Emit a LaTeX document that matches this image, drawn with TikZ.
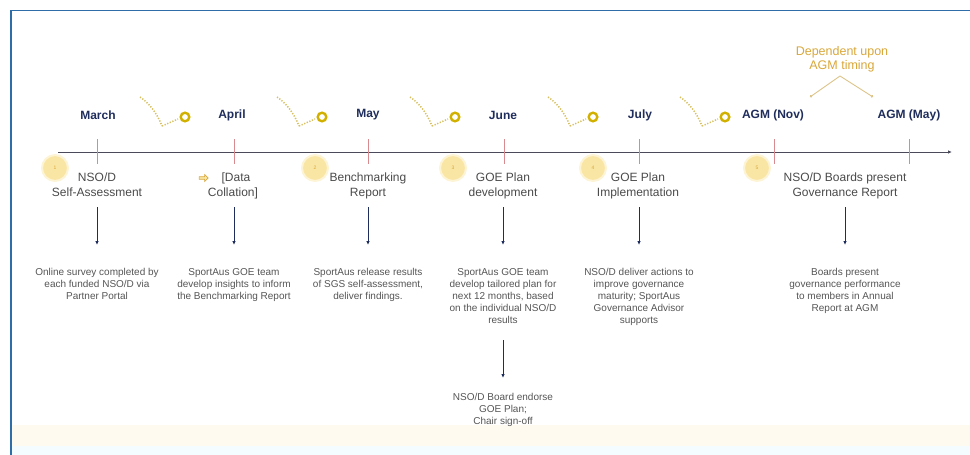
\documentclass[tikz,border=0pt]{standalone}
\usepackage{fontspec}
\setmainfont{Liberation Sans}
\usetikzlibrary{arrows.meta,shapes.arrows}
\definecolor{navy}{HTML}{1F2D5C}
\definecolor{framec}{HTML}{2F6DA8}
\definecolor{axisc}{HTML}{4A4A5A}
\definecolor{tickc}{HTML}{D98A8F}
\definecolor{titlec}{HTML}{4A4A4A}
\definecolor{descc}{HTML}{555555}
\definecolor{goldt}{HTML}{D8A73A}
\definecolor{caretc}{HTML}{DCC48A}
\definecolor{ringc}{HTML}{D2B000}
\definecolor{dotc}{HTML}{D6C060}
\definecolor{numfill}{HTML}{FAE6A4}
\definecolor{numedge}{HTML}{FDF4D6}
\definecolor{bandy}{HTML}{FFFAF0}
\definecolor{bandc}{HTML}{F4FCFF}
\begin{document}
\begin{tikzpicture}[x=1pt,y=-1pt,
  month/.style={font=\fontsize{12}{14}\selectfont\bfseries, text=navy, inner sep=0pt},
  stitle/.style={font=\fontsize{12}{15}\selectfont, text=titlec, align=center, inner sep=0pt, anchor=north},
  desc/.style={font=\fontsize{10}{12}\selectfont, text=descc, align=center, inner sep=0pt, anchor=north},
  numc/.style={circle, minimum size=26pt, inner sep=0pt, fill=numfill, draw=numedge, line width=2pt, font=\fontsize{5}{6}\selectfont, text=goldt},
  tickl/.style={draw=tickc, line width=0.7pt},
  varrow/.style={draw=navy, line width=0.8pt, -{Latex[length=4pt,width=3.5pt]}},
  dotl/.style={draw=dotc, line width=1.5pt, dash pattern=on 1.3pt off 1.5pt},
  ringl/.style={draw=ringc, line width=2.4pt},
  loopsym/.pic={
    \draw[dotl] (0,0) .. controls (9,6) and (17,16) .. (22,29);
    \draw[dotl] (22,29) -- (38,22);
    \draw[ringl] (45,20) circle (4.3);
  }]
\useasboundingbox (0,0) rectangle (970,455);
\clip (0,0) rectangle (970,455);
% background bands and frame
\fill[bandy] (10,425) rectangle (970,446);
\fill[bandc] (10,446) rectangle (970,455);
\draw[framec, line width=1.6pt] (11,10.5) rectangle (990,480);

% axis
\coordinate (axL) at (58,152);
\coordinate (axR) at (952,152);
\draw[axisc, line width=0.9pt, -{Latex[length=4pt,width=3.5pt]}] (axL) -- (axR);

% ticks
\foreach \x in {97,234,368,504,639,774,909}
  \draw[tickl] (\x,139) -- (\x,164);

% month labels
\node[month] (mMar) at (98,115) {March};
\node[month] (mApr) at (232,115) {April};
\node[month] (mMay) at (368,115) {May};
\node[month] (mJun) at (503,115) {June};
\node[month] (mJul) at (640,115) {July};
\node[month] (mNov) at (773,115) {AGM (Nov)};
\node[month] (mAgm) at (909,115) {AGM (May)};

% loop symbols
\pic at (140,97) {loopsym};
\pic at (277,97) {loopsym};
\pic at (410,97) {loopsym};
\pic at (548,97) {loopsym};
\pic at (680,97) {loopsym};

% dependent upon AGM timing
\node[font=\fontsize{12.5}{14}\selectfont, text=goldt, align=center, inner sep=0pt] (dep) at (842,59) {Dependent upon\\AGM timing};
\coordinate (apex) at (840,76);
\coordinate (capL) at (810,97);
\coordinate (capR) at (873,97);
\draw[caretc, line width=0.9pt, -{Circle[length=2.5pt]}] (apex) -- (capL);
\draw[caretc, line width=0.9pt, -{Circle[length=2.5pt]}] (apex) -- (capR);

% number circles
\node[numc] (c1) at (55,168) {1};
\node[numc] (c2) at (315,168) {2};
\node[numc] (c3) at (453,168) {3};
\node[numc] (c4) at (593,168) {4};
\node[numc] (c5) at (757,168) {5};

% step titles
\node[stitle] (t1) at (97,173) {NSO/D\\Self-Assessment};
\node[stitle] (t2) at (233,173) {\hphantom{x}[Data\\Collation]};
\node[single arrow, draw=goldt, fill=numfill, line width=0.6pt, minimum height=9pt, minimum width=7pt, single arrow head extend=1.5pt, inner sep=0.5pt] (ar2) at (203,178) {};
\node[stitle] (t3) at (368,173) {Benchmarking\\Report};
\node[stitle] (t4) at (503,173) {GOE Plan\\development};
\node[stitle] (t5) at (638,173) {GOE Plan\\Implementation};
\node[stitle] (t6) at (845,173) {NSO/D Boards present\\Governance Report};

% descriptions
\node[desc] (d1) at (97,268) {Online survey completed by\\each funded NSO/D via\\Partner Portal};
\node[desc] (d2) at (234,268) {SportAus GOE team\\develop insights to inform\\the Benchmarking Report};
\node[desc] (d3) at (368,268) {SportAus release results\\of SGS self-assessment,\\deliver findings.};
\node[desc] (d4) at (503,268) {SportAus GOE team\\develop tailored plan for\\next 12 months, based\\on the individual NSO/D\\results};
\node[desc] (d5) at (639,268) {NSO/D deliver actions to\\improve governance\\maturity; SportAus\\Governance Advisor\\supports};
\node[desc] (d6) at (845,268) {Boards present\\governance performance\\to members in Annual\\Report at AGM};
\node[desc] (d7) at (503,393) {NSO/D Board endorse\\GOE Plan;\\Chair sign-off};

% arrows
\coordinate (rowA) at (0,207);
\coordinate (rowB) at (0,245);
\coordinate (rowC) at (0,340);
\coordinate (rowD) at (0,378);
\draw[varrow] (d1 |- rowA) -- (d1 |- rowB);
\draw[varrow] (d2 |- rowA) -- (d2 |- rowB);
\draw[varrow] (d3 |- rowA) -- (d3 |- rowB);
\draw[varrow] (d4 |- rowA) -- (d4 |- rowB);
\draw[varrow] (d5 |- rowA) -- (d5 |- rowB);
\draw[varrow] (d6 |- rowA) -- (d6 |- rowB);
\draw[varrow] (d4 |- rowC) -- (d7 |- rowD);
\end{tikzpicture}
\end{document}
